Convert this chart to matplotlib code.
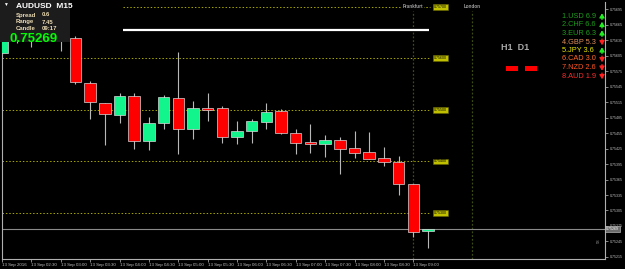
import matplotlib
matplotlib.use("Agg")
import matplotlib.pyplot as plt
from matplotlib.patches import Rectangle
from matplotlib.transforms import blended_transform_factory

W, H = 625, 269

# AUDUSD M15, 13 Sep 2016, one bar every 15 minutes from 02:00
bar_times = ["02:00", "02:15", "02:30", "02:45", "03:00", "03:15", "03:30", "03:45",
             "04:00", "04:15", "04:30", "04:45", "05:00", "05:15", "05:30", "05:45",
             "06:00", "06:15", "06:30", "06:45", "07:00", "07:15", "07:30", "07:45",
             "08:00", "08:15", "08:30", "08:45", "09:00", "09:15"]
opens = [0.75610, 0.75643, 0.75650, 0.75666, 0.75654, 0.75639, 0.75552, 0.75513,
         0.75490, 0.75527, 0.75440, 0.75474, 0.75523, 0.75463, 0.75503, 0.75503,
         0.75447, 0.75459, 0.75476, 0.75498, 0.75455, 0.75438, 0.75434, 0.75441,
         0.75426, 0.75418, 0.75407, 0.75399, 0.75356, 0.75265]
highs = [0.75649, 0.75664, 0.75674, 0.75678, 0.75662, 0.75643, 0.75556, 0.75513,
         0.75532, 0.75532, 0.75486, 0.75529, 0.75612, 0.75517, 0.75532, 0.75507,
         0.75478, 0.75482, 0.75513, 0.75501, 0.75463, 0.75472, 0.75451, 0.75447,
         0.75459, 0.75457, 0.75428, 0.75410, 0.75356, 0.75269]
lows = [0.75606, 0.75629, 0.75621, 0.75643, 0.75614, 0.75550, 0.75482, 0.75432,
        0.75474, 0.75424, 0.75422, 0.75463, 0.75414, 0.75443, 0.75478, 0.75436,
        0.75434, 0.75436, 0.75463, 0.75453, 0.75414, 0.75416, 0.75409, 0.75376,
        0.75407, 0.75405, 0.75391, 0.75335, 0.75254, 0.75232]
closes = [0.75643, 0.75654, 0.75666, 0.75654, 0.75639, 0.75554, 0.75515, 0.75492,
          0.75527, 0.75440, 0.75474, 0.75525, 0.75463, 0.75503, 0.75500, 0.75447,
          0.75459, 0.75478, 0.75496, 0.75455, 0.75436, 0.75434, 0.75441, 0.75424,
          0.75416, 0.75405, 0.75399, 0.75356, 0.75263, 0.75269]

bid = 0.75269
price_ticks = [0.75215, 0.75245, 0.75275, 0.75305, 0.75335, 0.75365, 0.75395, 0.75425,
               0.75455, 0.75485, 0.75515, 0.75545, 0.75575, 0.75605, 0.75635, 0.75665,
               0.75695]
time_labels = ["13 Sep 2016", "13 Sep 02:30", "13 Sep 03:00", "13 Sep 03:30",
               "13 Sep 04:00", "13 Sep 04:30", "13 Sep 05:00", "13 Sep 05:30",
               "13 Sep 06:00", "13 Sep 06:30", "13 Sep 07:00", "13 Sep 07:30",
               "13 Sep 08:00", "13 Sep 08:30", "13 Sep 09:00"]

round_levels = [0.75700, 0.75600, 0.75500, 0.75400, 0.75300]
day_open = 0.75654
sessions = ["Frankfurt", "London"]
session_bars = [28, 32]

currencies = ["1.USD", "2.CHF", "3.EUR", "4.GBP", "5.JPY", "6.CAD", "7.NZD", "8.AUD"]
strength = [6.9, 6.6, 6.3, 5.3, 3.6, 3.0, 2.6, 1.9]
rising = [True, True, True, False, True, False, False, False]
cur_colors = ["#1c9c1c", "#1c9c1c", "#1c9c1c", "#e0905a", "#e8e800",
              "#ff6a2a", "#ff5522", "#ff2a2a"]

spread, rng, candle_left = "0.6", "7.45", "09:17"

UP, DOWN = "#12f58c", "#ff0000"


def fx(x):
    return x / W


def fy(y):
    return 1 - y / H


plt.rcParams["font.family"] = ["Liberation Sans", "DejaVu Sans"]
fig = plt.figure(figsize=(6.25, 2.69), dpi=100, facecolor="black")
ax = fig.add_axes([fx(2), fy(259), fx(603), (259 - 2) / H], facecolor="black")

bar_px = 14.7
xmin = 0.034
ax.set_xlim(xmin, xmin + 603 / bar_px)
ax.set_ylim(0.75211, 0.75709)

# candles
xs = list(range(len(opens)))
ax.vlines(xs, lows, highs, color="#b8b8b8", lw=0.8, zorder=2)
bottoms = [min(o, c) for o, c in zip(opens, closes)]
heights = [max(abs(c - o), 0.00003) for o, c in zip(opens, closes)]
colors = [UP if c >= o else DOWN for o, c in zip(opens, closes)]
ax.bar(xs, heights, bottom=bottoms, width=0.78, color=colors,
       edgecolor="#d8d8d8", linewidth=0.5, zorder=3)

# round number levels
line_end = (430 - 1.5) / bar_px
line_start_top = (123 - 1.5) / bar_px
for lv in round_levels:
    x0 = line_start_top if lv == round_levels[0] else xmin
    ax.hlines(lv, x0, line_end, colors="#a8a800", lw=0.7, linestyles=(0, (1.5, 2)), zorder=1)
    ax.text(line_end + 0.25, lv, f"{lv:.5f}", fontsize=2.6, color="black", va="center",
            ha="left", zorder=5,
            bbox=dict(boxstyle="square,pad=0.25", fc="#c0c000", ec="#606000", lw=0.4))
ax.hlines(day_open, line_start_top, line_end - 0.05, colors="white", lw=1.6, zorder=4)

# sessions
top_tr = blended_transform_factory(ax.transData, ax.transAxes)
for name, b in zip(sessions, session_bars):
    ax.vlines(b, 0, 0.965, transform=top_tr, colors="#3c4c14", lw=0.9,
              linestyles=(0, (1.5, 1.5)), zorder=1)
    ax.text(b, 0.983, name, transform=top_tr, fontsize=3.3, color="#a0a0a0",
            fontweight="bold", ha="center", va="center", zorder=6,
            bbox=dict(boxstyle="square,pad=0.1", fc="black", ec="none"))

# bid line
ax.axhline(bid, color="#8a8a8a", lw=0.8, zorder=1)
rt = blended_transform_factory(ax.transAxes, ax.transData)
ax.text(1.002, bid, f"{bid:.5f}", transform=rt, fontsize=2.6, color="white",
        va="center", ha="left", zorder=6, clip_on=False,
        bbox=dict(boxstyle="square,pad=0.2", fc="#6c6c6c", ec="#d0d0d0", lw=0.4))

# axes styling
ax.yaxis.tick_right()
ax.set_yticks(price_ticks)
ax.set_yticklabels([f"{p:.5f}" for p in price_ticks])
ax.set_xticks(xs[::2])
ax.set_xticklabels(time_labels, ha="left")
ax.tick_params(axis="y", colors="#c0c0c0", labelsize=2.6, length=2, width=0.5, pad=1.2)
ax.tick_params(axis="x", colors="#c0c0c0", labelsize=3.2, length=2, width=0.5, pad=1.2)
for side in ["left", "bottom", "right"]:
    ax.spines[side].set_color("#b0b0b0")
    ax.spines[side].set_linewidth(0.8)
ax.spines["top"].set_visible(False)
ax.text(0.99, 0.07, "58", transform=ax.transAxes, rotation=90, fontsize=3,
        color="#909090", ha="center", va="center")

# info panel
fig.patches.append(Rectangle((0, fy(42)), fx(70), 42 / H, transform=fig.transFigure,
                             fc="#1c1c1c", ec="none", zorder=10))
fig.text(fx(3), fy(4.5), "▼", fontsize=3.5, color="white", va="center", zorder=11)
fig.text(fx(16), fy(7), "AUDUSD  M15", fontsize=6, fontweight="bold", color="white",
         va="center", zorder=11)
for i, (k, v) in enumerate([("Spread", spread), ("Range", rng), ("Candle", candle_left)]):
    fig.text(fx(16), fy(15 + 7 * i), k, fontsize=4.3, fontweight="bold", color="#ecdcb4",
             va="center", zorder=11)
    fig.text(fx(42), fy(15 + 7 * i), v, fontsize=4.3, fontweight="bold", color="#ecdcb4",
             va="center", zorder=11)
fig.text(fx(10), fy(38.5), f"{bid:.5f}", fontsize=9.5, fontweight="bold", color="#00ff00",
         va="center", zorder=11)

# currency strength list
for i, (c, s, up, col) in enumerate(zip(currencies, strength, rising, cur_colors)):
    y = 16.5 + 8.5 * i
    fig.text(fx(562), fy(y), f"{c} {s:.1f}", fontsize=5.3, color=col, va="center")
    acol = "#22ee22" if up else "#ff2020"
    y0, y1 = (y + 3, y - 3.2) if up else (y - 3, y + 3.2)
    fig.add_artist(plt.Annotation("", xy=(fx(602), fy(y1)), xytext=(fx(602), fy(y0)),
                                  xycoords="figure fraction", textcoords="figure fraction",
                                  arrowprops=dict(arrowstyle="-|>,head_length=0.25,head_width=0.15",
                                                  color=acol, lw=0.9,
                                                  shrinkA=0, shrinkB=0)))

fig.text(fx(515), fy(47), "H1  D1", fontsize=6.5, fontweight="bold", color="#a8a8a8",
         ha="center", va="center")
for x0 in (506, 525):
    fig.patches.append(Rectangle((fx(x0), fy(71)), fx(12), 5 / H, transform=fig.transFigure,
                                 fc="#ff0000", ec="none"))

fig.savefig("out.png", dpi=100, facecolor="black")
